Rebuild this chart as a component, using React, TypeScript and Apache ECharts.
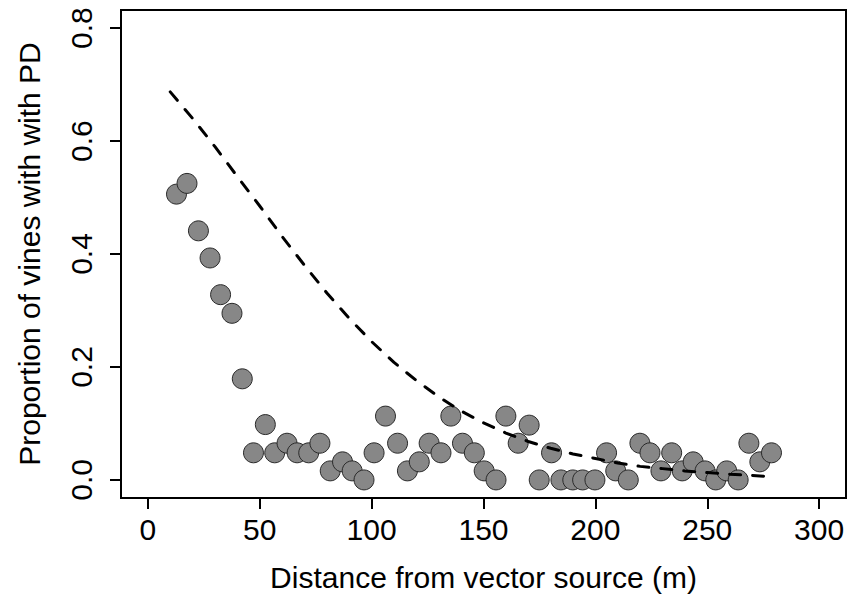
import React, { useEffect, useRef } from "react";
import * as echarts from "echarts";

const distance = [
  12.8, 17.5, 22.6, 27.8, 32.5, 37.6, 42.2, 47.2, 52.5, 56.7, 62.2, 66.7, 71.9, 76.9, 81.5,
  87.0, 91.3, 96.6, 101.1, 106.2, 111.6, 116.0, 121.3, 125.7, 131.0, 135.4, 140.6, 145.9,
  150.3, 155.6, 160.0, 165.5, 170.4, 174.9, 180.4, 184.6, 189.9, 194.3, 199.8, 205.0, 209.1,
  214.7, 219.9, 224.4, 229.3, 234.1, 238.8, 243.7, 249.0, 253.8, 258.7, 263.8, 268.6, 273.5,
  278.7,
];
const proportion = [
  0.506, 0.525, 0.441, 0.393, 0.328, 0.295, 0.179, 0.048, 0.098, 0.048, 0.065, 0.048, 0.048,
  0.065, 0.016, 0.032, 0.016, 0.0, 0.048, 0.113, 0.065, 0.016, 0.032, 0.065, 0.048, 0.113,
  0.065, 0.048, 0.016, 0.0, 0.113, 0.065, 0.097, 0.0, 0.048, 0.0, 0.0, 0.0, 0.0, 0.048, 0.016,
  0.0, 0.065, 0.048, 0.016, 0.048, 0.016, 0.032, 0.016, 0.0, 0.016, 0.0, 0.065, 0.032, 0.048,
];

const fitX = [10, 20, 30, 40, 50, 60, 70, 80, 90, 100, 110, 120, 130, 140, 150, 160, 170, 180, 190, 200, 210, 220, 230, 240, 250, 260, 270, 278];
const fitY = [
  0.687, 0.64, 0.59, 0.537, 0.485, 0.431, 0.38, 0.331, 0.286, 0.245, 0.208, 0.176, 0.147,
  0.122, 0.101, 0.083, 0.068, 0.056, 0.046, 0.038, 0.03, 0.024, 0.02, 0.016, 0.013, 0.01,
  0.008, 0.006,
];

const xTicks = [0, 50, 100, 150, 200, 250, 300];
const yTicks = [0, 0.2, 0.4, 0.6, 0.8];

const xTitle = "Distance from vector source (m)";
const yTitle = "Proportion of vines with with PD";

const FONT = "'Liberation Sans', Arial, sans-serif";

export default function App() {
  const ref = useRef<HTMLDivElement>(null);

  useEffect(() => {
    if (!ref.current) return;
    const chart = echarts.init(ref.current, null, { renderer: "svg" });
    chart.setOption({
      animation: false,
      backgroundColor: "#ffffff",
      grid: {
        left: 121,
        right: 18,
        top: 10,
        bottom: 98,
        show: true,
        borderColor: "#000000",
        borderWidth: 2,
        backgroundColor: "transparent",
      },
      xAxis: {
        type: "value",
        min: -12,
        max: 312,
        position: "bottom",
        name: xTitle,
        nameLocation: "middle",
        nameGap: 64,
        nameTextStyle: { fontFamily: FONT, fontSize: 30, color: "#000" },
        axisLine: { show: false, onZero: false },
        splitLine: { show: false },
        axisTick: {
          show: true,
          inside: false,
          length: 11,
          customValues: xTicks,
          lineStyle: { color: "#000", width: 2 },
        },
        axisLabel: {
          customValues: xTicks,
          margin: 16,
          fontFamily: FONT,
          fontSize: 30,
          color: "#000",
        },
      },
      yAxis: {
        type: "value",
        min: -0.032,
        max: 0.832,
        position: "left",
        name: yTitle,
        nameLocation: "middle",
        nameGap: 77,
        nameRotate: 90,
        nameTextStyle: { fontFamily: FONT, fontSize: 30, color: "#000" },
        axisLine: { show: false, onZero: false },
        splitLine: { show: false },
        axisTick: {
          show: true,
          inside: false,
          length: 11,
          customValues: yTicks,
          lineStyle: { color: "#000", width: 2 },
        },
        axisLabel: {
          customValues: yTicks,
          rotate: 90,
          margin: 25,
          fontFamily: FONT,
          fontSize: 30,
          color: "#000",
          formatter: (v: number) => v.toFixed(1),
        },
      },
      series: [
        {
          type: "scatter",
          data: distance.map((d, i) => [d, proportion[i]]),
          symbol: "circle",
          symbolSize: 20,
          itemStyle: { color: "#878787", borderColor: "#2a2a2a", borderWidth: 1, opacity: 1 },
          z: 2,
        },
        {
          type: "line",
          data: fitX.map((d, i) => [d, fitY[i]]),
          smooth: false,
          showSymbol: false,
          symbol: "none",
          lineStyle: { color: "#000", width: 3, type: [11, 12], cap: "round", join: "round" },
          z: 3,
        },
      ],
    });
    return () => chart.dispose();
  }, []);

  return <div ref={ref} style={{ width: 864, height: 597, position: "absolute", left: 0, top: 0 }} />;
}
